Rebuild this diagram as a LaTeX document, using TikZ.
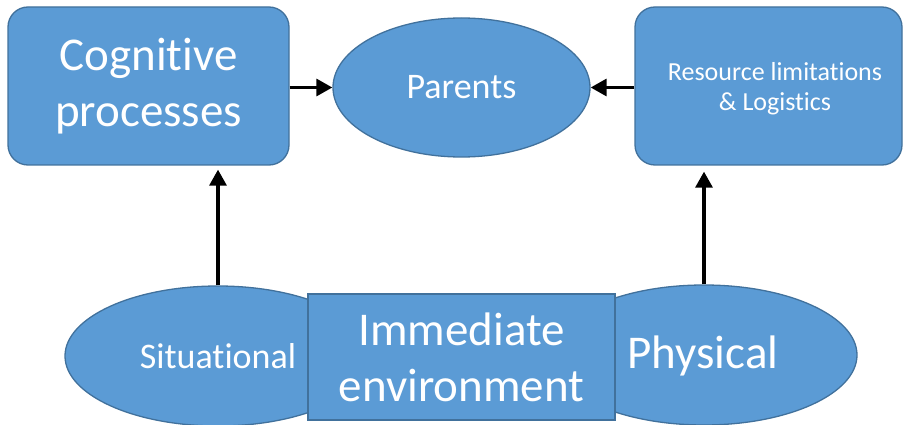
\documentclass[tikz,border=0pt]{standalone}
\usepackage{fontspec}
\setmainfont[Ligatures=NoCommon,Contextuals=NoAlternate]{Carlito}
\usetikzlibrary{shapes.geometric,arrows.meta}
\definecolor{boxfill}{HTML}{5B9BD5}
\definecolor{boxline}{HTML}{41719C}
\tikzset{
  shapebase/.style={fill=boxfill, draw=boxline, line width=1.3pt, text=white, inner sep=0pt, align=center},
  roundbox/.style={shapebase, rectangle, rounded corners=20pt},
  sqbox/.style={shapebase, rectangle},
  oval/.style={shapebase, ellipse},
  conn/.style={line width=3.2pt, -{Triangle[length=16pt,width=17pt]}},
  big/.style={font=\fontsize{47}{56}\selectfont},
  mid/.style={font=\fontsize{36}{43}\selectfont},
  small/.style={font=\fontsize{26}{30}\selectfont}
}
\begin{document}
\begin{tikzpicture}[x=1pt,y=-1pt]
\useasboundingbox (0,0) rectangle (903,425);
\node[roundbox, big, minimum width=281pt, minimum height=158pt] (cog) at (148.5,86) {Cognitive\\processes};
\node[roundbox, minimum width=267pt, minimum height=158pt] (res) at (768.5,86) {};
\node[small, text=white, align=center] (reslbl) at (775,89) {Resource limitations\\\& Logistics};
\node[oval, mid, minimum width=257pt, minimum height=139pt] (par) at (461.5,87.5) {Parents};
\node[oval, mid, minimum width=306pt, minimum height=140pt] (sit) at (218,356) {Situational};
\node[oval, minimum width=306pt, minimum height=140pt] (phy) at (704,355) {};
\node[big, text=white] (phylbl) at (703,356) {Physical};
\node[sqbox, big, minimum width=307pt, minimum height=126pt] (imm) at (461.5,357) {Immediate\\environment};
\draw[conn] (cog.east |- par.west) -- (par.west);
\draw[conn] (res.west |- par.east) -- (par.east);
\draw[conn, shorten >=4pt] (sit.north) -- (sit.north |- cog.south);
\draw[conn, shorten >=6pt] (phy.north) -- (phy.north |- res.south);
\end{tikzpicture}
\end{document}
